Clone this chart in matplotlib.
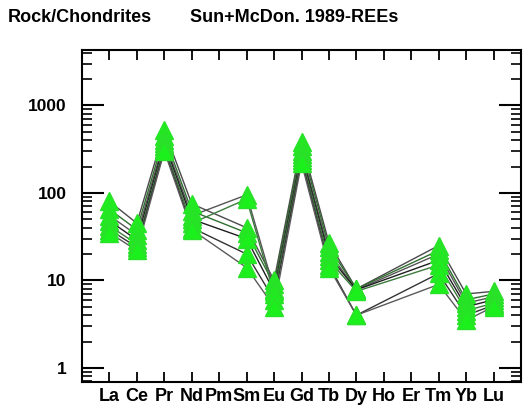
import numpy as np
import matplotlib
matplotlib.use('Agg')
import matplotlib.pyplot as plt
from matplotlib.ticker import LogLocator, NullFormatter, FixedLocator

# REE spider diagram, chondrite normalised (Sun & McDonough 1989)

elements = ['La', 'Ce', 'Pr', 'Nd', 'Pm', 'Sm', 'Eu', 'Gd', 'Tb', 'Dy',
            'Ho', 'Er', 'Tm', 'Yb', 'Lu']
# elements that were analysed (Pm, Ho, Er missing)
used = ['La', 'Ce', 'Pr', 'Nd', 'Sm', 'Eu', 'Gd', 'Tb', 'Dy', 'Tm', 'Yb', 'Lu']

s1 = [80, 45, 520, 75, 40, 10.0, 380, 27, 8.0, 25, 7.0, 7.5]
s2 = [65, 38, 450, 62, 35, 9.0, 340, 24, 8.0, 22, 6.0, 7.0]
s3 = [55, 33, 400, 55, 95, 8.0, 300, 21, 7.8, 20, 5.5, 6.5]
s4 = [48, 29, 370, 50, 30, 7.5, 280, 19, 7.8, 17, 5.0, 6.0]
s5 = [42, 26, 340, 45, 85, 7.0, 260, 17, 7.5, 15, 4.5, 5.5]
s6 = [38, 24, 320, 40, 20, 6.0, 240, 15, 4.0, 12, 4.0, 5.2]
s7 = [35, 22, 300, 38, 14, 5.0, 220, 14, 4.0, 9, 3.5, 5.0]
samples = [s1, s2, s3, s4, s5, s6, s7]
line_cols = ['#4a4a4a', '#2f6f2f', '#555555', '#1e1e1e', '#3c7a3c', '#333333', '#5a5a5a']

plt.rcParams['font.family'] = ['Liberation Sans', 'DejaVu Sans']

fig = plt.figure(figsize=(5.24, 4.12), dpi=100)
ax = fig.add_axes([82/524, 30/412, 439/524, 332/412])

xpos = [elements.index(e) + 1 for e in used]
for s, c in zip(samples, line_cols):
    ax.plot(xpos, s, '-', color=c, lw=1.0, zorder=2)
for s in samples:
    ax.plot(xpos, s, '^', ms=12.5, mfc='#1cf01c', mec='#2ae02a', ls='none', zorder=3)

ax.set_yscale('log')
ax.set_xlim(0, 16)
ax.set_ylim(0.69, 4300)

ax.xaxis.set_major_locator(FixedLocator(range(1, 16)))
ax.set_xticklabels(elements, fontsize=13, fontweight='bold')
ax.yaxis.set_minor_locator(LogLocator(base=10, subs=np.arange(2, 10), numticks=20))
ax.yaxis.set_minor_formatter(NullFormatter())
ax.set_yticks([1, 10, 100, 1000])
ax.set_yticklabels(['1', '10', '100', '1000'], fontsize=12.5, fontweight='bold')

ax.tick_params(axis='x', direction='in', top=True, length=7, width=1.3, pad=4)
ax.tick_params(axis='y', which='major', direction='in', right=True, length=16, width=1.5, pad=11)
ax.tick_params(axis='y', which='minor', direction='in', right=True, length=7, width=1.2)
for sp in ax.spines.values():
    sp.set_linewidth(1.5)

fig.text(8/524, 1 - 18/412, 'Rock/Chondrites', fontsize=13, fontweight='bold', va='center')
fig.text(190/524, 1 - 18/412, 'Sun+McDon. 1989-REEs', fontsize=13, fontweight='bold', va='center')

fig.savefig('out.png', dpi=100)
